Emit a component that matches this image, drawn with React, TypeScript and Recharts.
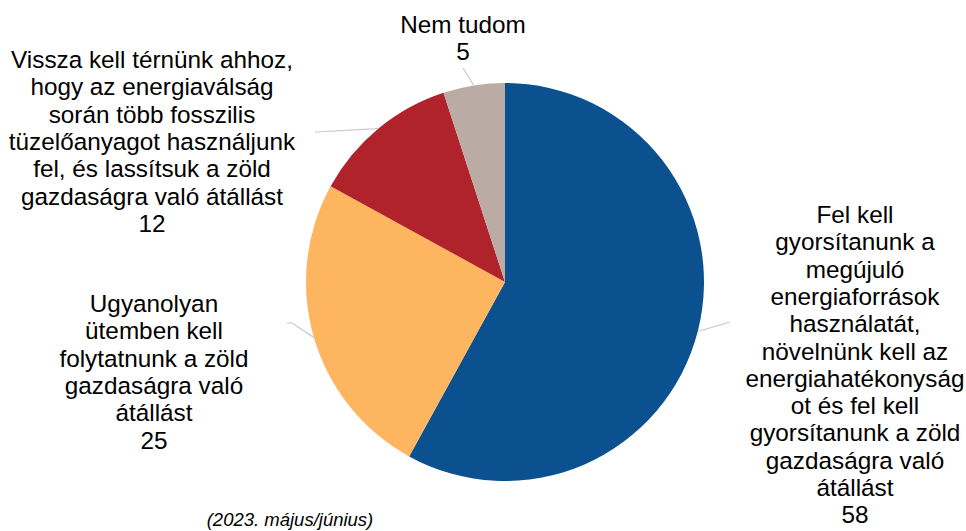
import React from "react";
import { PieChart, Pie, Cell } from "recharts";

const categories = [
  "Fel kell gyorsítanunk a megújuló energiaforrások használatát, növelnünk kell az energiahatékonyságot és fel kell gyorsítanunk a zöld gazdaságra való átállást",
  "Ugyanolyan ütemben kell folytatnunk a zöld gazdaságra való átállást",
  "Vissza kell térnünk ahhoz, hogy az energiaválság során több fosszilis tüzelőanyagot használjunk fel, és lassítsuk a zöld gazdaságra való átállást",
  "Nem tudom",
];
const values = [58, 25, 12, 5];
const colors = ["#0B5190", "#FDB55F", "#B1232A", "#BAACA5"];
const labelLines = [
  ["Fel kell", "gyorsítanunk a", "megújuló", "energiaforrások", "használatát,", "növelnünk kell az", "energiahatékonyság", "ot és fel kell", "gyorsítanunk a zöld", "gazdaságra való", "átállást"],
  ["Ugyanolyan", "ütemben kell", "folytatnunk a zöld", "gazdaságra való", "átállást"],
  ["Vissza kell térnünk ahhoz,", "hogy az energiaválság", "során több fosszilis", "tüzelőanyagot használjunk", "fel, és lassítsuk a zöld", "gazdaságra való átállást"],
  ["Nem tudom"],
];
const footnote = "(2023. május/június)";

const data = categories.map((name, i) => ({ name, value: values[i] }));

// layout offsets relative to pie centre
const labelLayout = [
  { tx: 350, ty: -59, pts: [[225, 40]] },
  { tx: -351, ty: 30, pts: [[-213, 41], [-218, 41]] },
  { tx: -353, ty: -214, pts: [[-190, -150]] },
  { tx: -42, ty: -249, pts: [[-42, -214]] },
];

const FONT = "'Liberation Sans', Arial, sans-serif";
const LINE_H = 27.3;
const RAD = Math.PI / 180;

const renderLabel = (props: any) => {
  const { cx, cy, midAngle, outerRadius, index, value } = props;
  const lay = labelLayout[index];
  const ex = cx + Math.cos(-midAngle * RAD) * outerRadius;
  const ey = cy + Math.sin(-midAngle * RAD) * outerRadius;
  const pts = [[ex, ey], ...lay.pts.map((p) => [cx + p[0], cy + p[1]])];
  const d = pts.map((p, i) => `${i ? "L" : "M"}${p[0]},${p[1]}`).join(" ");
  const lines = [...labelLines[index], String(value)];
  return (
    <g key={`lbl-${index}`}>
      <path d={d} stroke="#C8C8C8" strokeWidth={1.2} fill="none" />
      <text
        x={cx + lay.tx}
        y={cy + lay.ty}
        textAnchor="middle"
        fontFamily={FONT}
        fontSize={24.3}
        fill="#000"
      >
        {lines.map((l, i) => (
          <tspan key={i} x={cx + lay.tx} dy={i === 0 ? 0 : LINE_H}>
            {l}
          </tspan>
        ))}
      </text>
    </g>
  );
};

export default function App() {
  return (
    <div style={{ position: "absolute", left: 0, top: 0, width: 966, height: 531, background: "#fff" }}>
      <PieChart width={966} height={531} margin={{ top: 0, right: 0, bottom: 0, left: 0 }}>
        <Pie
          data={data}
          dataKey="value"
          nameKey="name"
          cx={505}
          cy={282}
          outerRadius={199}
          startAngle={90}
          endAngle={-270}
          stroke="none"
          labelLine={false}
          label={renderLabel}
          isAnimationActive={false}
        >
          {data.map((d, i) => (
            <Cell key={d.name} fill={colors[i]} />
          ))}
        </Pie>
        <text
          x={290}
          y={526}
          textAnchor="middle"
          fontFamily={FONT}
          fontStyle="italic"
          fontSize={18.5}
          fill="#000"
        >
          {footnote}
        </text>
      </PieChart>
    </div>
  );
}
